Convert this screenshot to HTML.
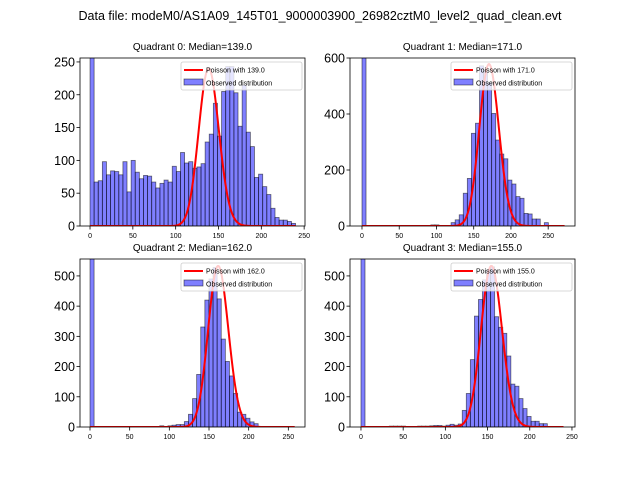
<!DOCTYPE html>
<html><head><meta charset="utf-8"><style>
body{margin:0;background:#fff;}
svg{display:block;font-family:"Liberation Sans","DejaVu Sans",sans-serif;}
</style></head><body>
<svg id="fig" width="640" height="480">
<text x="320" y="20" font-size="12.5" text-anchor="middle">Data file: modeM0/AS1A09_145T01_9000003900_26982cztM0_level2_quad_clean.evt</text>
</svg>
<script>
// Quadrant data (counts per bin)
const binWidths = [4.8, 5.44, 5.17, 4.8];
const medians = [139.0, 171.0, 162.0, 155.0];
const peaks = [240, 578, 533, 533];
const curveEnds = [240, 272, 258, 240];
const counts0 = [600,67,69,98,78,84,83,78,98,52,100,82,72,77,76,67,58,65,70,67,91,83,112,96,98,88,90,95,128,140,187,137,205,243,243,203,152,215,143,121,74,79,60,48,27,13,9,9,7,4];
const counts1 = [620,0,0,0,0,0,0,0,0,0,0,0,0,0,0,0,0,4,4,0,0,0,12,22,40,117,170,331,367,572,555,512,402,307,257,240,164,150,105,99,45,43,25,25,0,12,0,0,0,0];
const counts2 = [580,0,0,0,0,0,0,0,0,0,0,0,0,0,0,0,0,4,0,4,6,8,8,18,42,94,174,331,420,490,528,424,291,217,169,111,49,42,29,17,11,0,0,0,0,0,0,0,0,0];
const counts3 = [580,0,0,0,0,0,0,3,3,3,3,0,0,0,3,3,3,4,5,5,3,6,9,6,10,55,111,223,367,422,487,520,530,365,330,310,235,142,135,94,61,35,19,19,11,11,0,0,0,0];
const allCounts = [counts0, counts1, counts2, counts3];
const yTicks0 = [0,50,100,150,200,250];
const yTicks1 = [0,200,400,600];
const yTicks2 = [0,100,200,300,400,500];
const yTicks3 = [0,100,200,300,400,500];
const allYTicks = [yTicks0, yTicks1, yTicks2, yTicks3];
const xTicks0 = [0,50,100,150,200,250];
const xTicks1 = [0,50,100,150,200,250];
const xTicks2 = [0,50,100,150,200,250];
const xTicks3 = [0,50,100,150,200,250];
const allXTicks = [xTicks0, xTicks1, xTicks2, xTicks3];

const layout = [
 {l:80,t:58,w:225,h:168,xmin:-11.7,xmax:251,ymax:256},
 {l:350,t:58,w:225,h:168,xmin:-16.1,xmax:286,ymax:600},
 {l:80,t:259,w:225,h:168,xmin:-12.6,xmax:271,ymax:556},
 {l:350,t:259,w:225,h:168,xmin:-13,xmax:253.6,ymax:556}
];
const NS="http://www.w3.org/2000/svg";
const svg=document.getElementById('fig');
function mk(tag,attrs,parent){const e=document.createElementNS(NS,tag);for(const k in attrs)e.setAttribute(k,attrs[k]);(parent||svg).appendChild(e);return e;}
function lnfact(k){let s=0;for(let i=2;i<=k;i++)s+=Math.log(i);return s;}
function pmf(k,mu){return Math.exp(k*Math.log(mu)-mu-lnfact(k));}

layout.forEach((L,q)=>{
  const g=mk('g',{});
  
  
  const X=v=>L.l+(v-L.xmin)/(L.xmax-L.xmin)*L.w;
  const Y=v=>L.t+L.h-v/L.ymax*L.h;
  const title=mk('text',{x:L.l+L.w/2,y:L.t-8,'font-size':'10','text-anchor':'middle'},g);
  title.textContent='Quadrant '+q+': Median='+medians[q].toFixed(1);
  
  
  const cp=mk('clipPath',{id:'cp'+q},g);
  mk('rect',{x:L.l,y:L.t,width:L.w,height:L.h},cp);
  const bars=mk('g',{'clip-path':'url(#cp'+q+')'},g);
  const bw=binWidths[q];
  allCounts[q].forEach((c,i)=>{
    if(c<=0)return;
    const x0=X(i*bw),x1=X((i+1)*bw);
    const r=mk('rect',{x:x0,y:Y(c),width:x1-x0,height:Y(0)-Y(c),fill:'rgba(0,0,255,0.5)',stroke:'rgba(0,0,0,0.55)','stroke-width':'0.8'},bars);
    
    
  });
  const mu=medians[q],scale=peaks[q]/pmf(Math.round(mu),mu);
  let d='';
  for(let k=0;k<=curveEnds[q];k++){d+=(k?'L':'M')+X(k).toFixed(2)+','+Y(pmf(k,mu)*scale).toFixed(2);}
  const pl=mk('path',{d:d,fill:'none',stroke:'#ff0000','stroke-width':'2','clip-path':'url(#cp'+q+')'},g);
  
  
  const fr=mk('rect',{x:L.l,y:L.t,width:L.w,height:L.h,fill:'none',stroke:'#000','stroke-width':'0.8'},g);
  
  
  allYTicks[q].forEach(v=>{
    mk('line',{x1:L.l-3.5,x2:L.l,y1:Y(v),y2:Y(v),stroke:'#000','stroke-width':'0.8'},g);
    const t=mk('text',{x:L.l-5,y:Y(v)+4.5,'font-size':'12.5','text-anchor':'end'},g);
    t.textContent=v;
    
    
  });
  allXTicks[q].forEach(v=>{
    mk('line',{x1:X(v),x2:X(v),y1:L.t+L.h,y2:L.t+L.h+3.5,stroke:'#000','stroke-width':'0.8'},g);
    const t=mk('text',{x:X(v),y:L.t+L.h+12,'font-size':'7','text-anchor':'middle'},g);
    t.textContent=v;
    
    
  });
  const lg=mk('g',{},g);
  
  
  const lx=L.l+L.w-124,ly=L.t+4;
  mk('rect',{x:lx,y:ly,width:121,height:28,fill:'rgba(255,255,255,0.8)',stroke:'#ccc','stroke-width':'0.8',rx:'2'},lg);
  mk('line',{x1:lx+3,x2:lx+22,y1:ly+8,y2:ly+8,stroke:'#f00','stroke-width':'2'},lg);
  const t1=mk('text',{x:lx+25,y:ly+10.5,'font-size':'7'},lg);
  t1.textContent='Poisson with '+mu.toFixed(1);
  
  
  mk('rect',{x:lx+3,y:ly+17,width:19,height:6,fill:'rgba(0,0,255,0.5)',stroke:'rgba(0,0,0,0.55)','stroke-width':'0.8'},lg);
  const t2=mk('text',{x:lx+25,y:ly+23.5,'font-size':'7'},lg);
  t2.textContent='Observed distribution';
  
  
});
</script>
</body></html>
